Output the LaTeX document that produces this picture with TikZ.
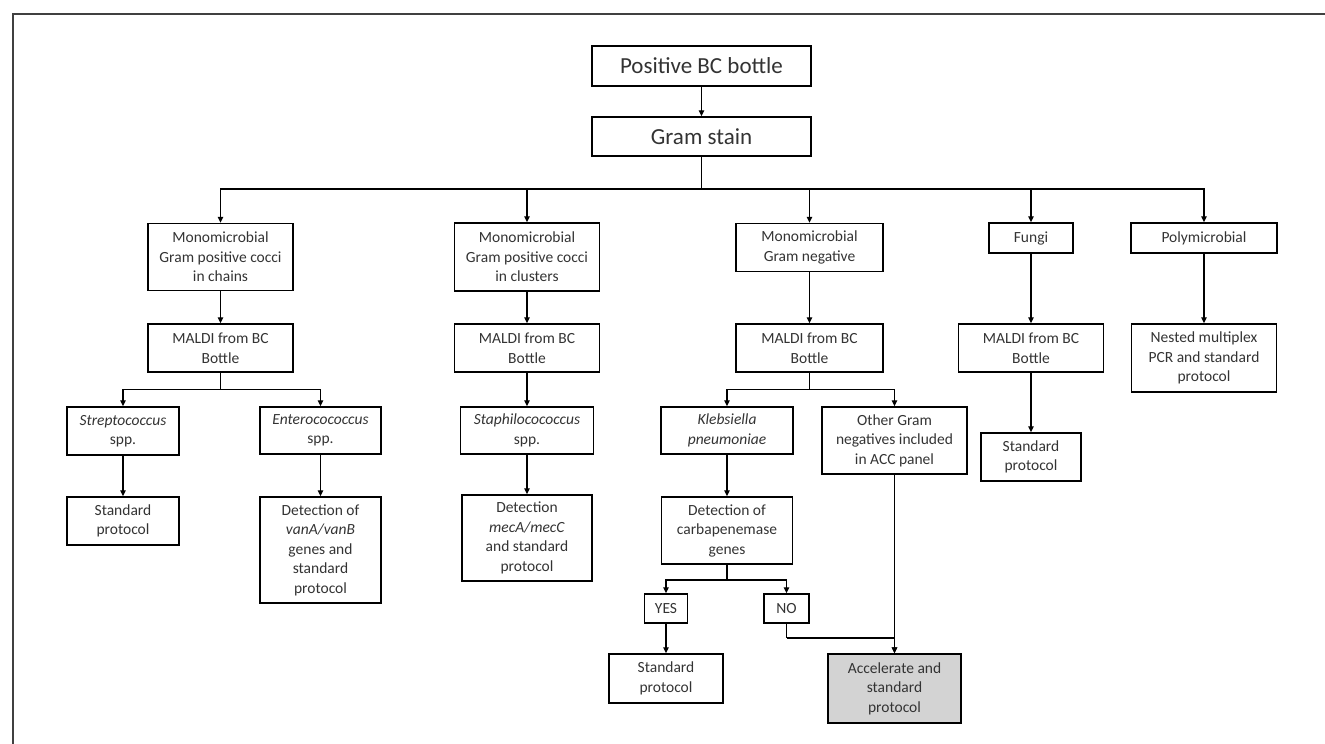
\documentclass[tikz,border=0pt]{standalone}
\usepackage{fontspec}
\setmainfont{Carlito}
\usetikzlibrary{arrows.meta}
\definecolor{accgray}{RGB}{211,211,211}
\tikzset{
  box/.style={draw, line width=1.5pt, align=center, text=black!80, inner sep=2pt,
    font=\fontsize{15.5}{19.5}\selectfont},
  bigbox/.style={box, font=\fontsize{23}{27}\selectfont},
}

\begin{document}
\begin{tikzpicture}[x=1pt, y=-1pt, >={Triangle[length=6pt,width=5.5pt]}, line width=1.4pt]
    \useasboundingbox (0,0) rectangle (1325,744);
    \draw[line width=1.8pt, black!75] (13,744) -- (13,14) -- (1325,14);

    \node[bigbox, minimum width=219pt, minimum height=40pt] (bottle) at (701.5,66) {Positive BC bottle};
    \node[bigbox, minimum width=219pt, minimum height=39pt] (gram) at (701.5,136.5) {Gram stain};

    \node[box, minimum width=145pt, minimum height=67pt] (chains) at (220.5,257) {Monomicrobial\\Gram positive cocci\\in chains};
    \node[box, minimum width=145pt, minimum height=68pt] (clusters) at (527,257) {Monomicrobial\\Gram positive cocci\\in clusters};
    \node[box, minimum width=147pt, minimum height=48pt] (neg) at (809.5,247.5) {Monomicrobial\\Gram negative};
    \node[box, minimum width=84pt, minimum height=30pt] (fungi) at (1031,238) {Fungi};
    \node[box, minimum width=146pt, minimum height=30pt] (poly) at (1204,238) {Polymicrobial};

    \node[box, minimum width=145pt, minimum height=48pt] (maldiA) at (220.5,348) {MALDI from BC\\Bottle};
    \node[box, minimum width=145pt, minimum height=48pt] (maldiB) at (527,348) {MALDI from BC\\Bottle};
    \node[box, minimum width=147pt, minimum height=48pt] (maldiC) at (809.5,348) {MALDI from BC\\Bottle};
    \node[box, minimum width=145pt, minimum height=48pt] (maldiD) at (1031,348) {MALDI from BC\\Bottle};
    \node[box, minimum width=145pt, minimum height=68pt] (nested) at (1204,358) {Nested multiplex\\PCR and standard\\protocol};

    \node[box, minimum width=112pt, minimum height=48pt] (strep) at (123,431) {\textit{Streptococcus}\\spp.};
    \node[box, minimum width=112pt, minimum height=48pt] (stdA) at (123,521) {Standard\\protocol};
    \node[box, minimum width=121pt, minimum height=47pt] (entero) at (320.5,430.5) {\textit{Enterocococcus}\\spp.};
    \node[box, minimum width=121pt, minimum height=106pt] (vanab) at (320.5,550) {Detection of\\\textit{vanA/vanB}\\genes and\\standard\\protocol};
    \node[box, minimum width=133pt, minimum height=47pt] (staph) at (527,430.5) {\textit{Staphilocococcus}\\spp.};
    \node[box, minimum width=130pt, minimum height=86pt] (meca) at (527,538) {Detection\\\textit{mecA/mecC}\\and standard\\protocol};
    \node[box, minimum width=132pt, minimum height=47pt] (kleb) at (727,430.5) {\textit{Klebsiella}\\\textit{pneumoniae}};
    \node[box, minimum width=145pt, minimum height=67pt] (other) at (894.5,440.5) {Other Gram\\negatives included\\in ACC panel};
    \node[box, minimum width=131pt, minimum height=67pt] (carba) at (727,530.5) {Detection of\\carbapenemase\\genes};
    \node[box, minimum width=43pt, minimum height=29pt] (yes) at (666,608.5) {YES};
    \node[box, minimum width=45pt, minimum height=29pt] (no) at (786.5,608.5) {NO};
    \node[box, minimum width=114pt, minimum height=49pt] (stdB) at (666,678.5) {Standard\\protocol};
    \node[box, fill=accgray, minimum width=133pt, minimum height=69pt] (accel) at (894.5,688.5) {Accelerate and\\standard\\protocol};
    \node[box, minimum width=100pt, minimum height=48pt] (stdD) at (1031,457) {Standard\\protocol};

    \coordinate (splitG) at (701.5,189);
    \coordinate (splitA) at (220.5,389.5);
    \coordinate (splitC) at (809.5,389.5);
    \coordinate (splitK) at (727,580);
    \coordinate (joinN) at (786.5,638);

    \draw[->] (bottle) -- (gram);
    \draw (gram) -- (splitG);
    \foreach \n in {chains, clusters, neg, fungi, poly}
        \draw[->] (splitG) -| (\n);

    \draw[->] (chains) -- (maldiA);
    \draw (maldiA) -- (splitA);
    \draw[->] (splitA) -| (strep);
    \draw[->] (splitA) -| (entero);
    \draw[->] (strep) -- (stdA);
    \draw[->] (entero) -- (vanab);

    \draw[->] (clusters) -- (maldiB);
    \draw[->] (maldiB) -- (staph);
    \draw[->] (staph) -- (meca);

    \draw[->] (neg) -- (maldiC);
    \draw (maldiC) -- (splitC);
    \draw[->] (splitC) -| (kleb);
    \draw[->] (splitC) -| (other);
    \draw[->] (kleb) -- (carba);
    \draw (carba) -- (splitK);
    \draw[->] (splitK) -| (yes);
    \draw[->] (splitK) -| (no);
    \draw[->] (yes) -- (stdB);
    \draw (no) -- (joinN);
    \draw[->] (joinN) -| (accel);
    \draw[->] (other) -- (accel);

    \draw[->] (fungi) -- (maldiD);
    \draw[->] (maldiD) -- (stdD);

    \draw[->] (poly) -- (nested);
\end{tikzpicture}
\end{document}
